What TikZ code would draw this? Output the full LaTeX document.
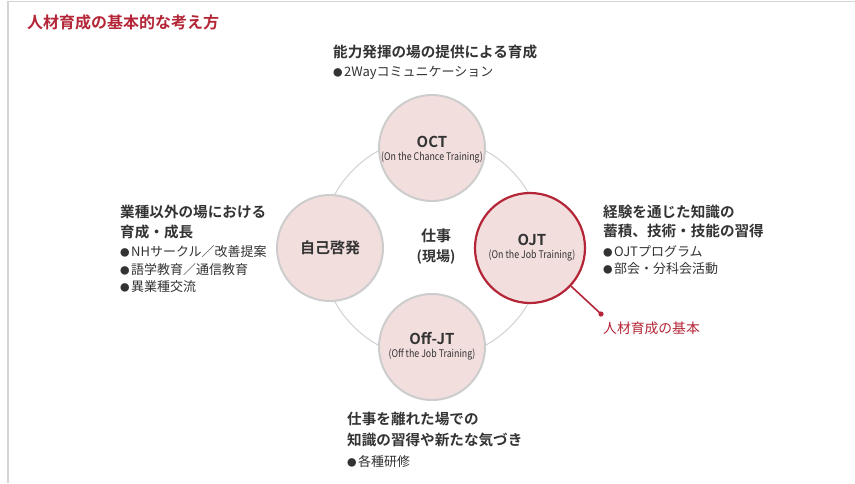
\documentclass[tikz,border=0pt]{standalone}
\usepackage{fontspec}
\usepackage{graphicx}
\setmainfont{Noto Sans CJK JP}[BoldFont={* Bold}]
\definecolor{pinkfill}{RGB}{243,222,222}
\definecolor{circgray}{RGB}{205,205,205}
\definecolor{ringgray}{RGB}{212,212,212}
\definecolor{redc}{RGB}{180,38,55}
\definecolor{txt}{RGB}{51,51,51}
\definecolor{framegray}{RGB}{212,212,212}
\tikzset{
  circ/.style={circle, fill=pinkfill, draw=circgray, line width=2pt, minimum size=106pt, inner sep=0pt},
  redcirc/.style={circle, fill=pinkfill, draw=redc, line width=2.2pt, minimum size=110pt, inner sep=0pt},
  head/.style={anchor=west, inner sep=0pt, text=txt, font=\fontsize{14.6}{16}\selectfont\bfseries},
  bul/.style={anchor=west, inner sep=0pt, text=txt, font=\fontsize{13}{15}\selectfont},
  ctitle/.style={inner sep=0pt, text=txt, font=\fontsize{15}{17}\selectfont\bfseries},
  csub/.style={inner sep=0pt, text=txt, font=\fontsize{10.5}{12}\selectfont},
}
\newcommand{\cond}[1]{\scalebox{0.84}[1]{#1}}
\newcommand{\bdot}{{\fontsize{9.5}{10}\selectfont ●}\kern1.5pt}
\begin{document}
\begin{tikzpicture}[x=1pt,y=-1pt]
\useasboundingbox (0,0) rectangle (855,483);
\fill[white] (0,0) rectangle (855,483);
\draw[framegray, line width=1.6pt] (8,483) -- (8,1.5) -- (855,1.5);
\node[anchor=west, inner sep=0pt, text=redc, font=\fontsize{16}{18}\selectfont\bfseries] (title) at (27,22) {人材育成の基本的な考え方};

% background ring
\node[circle, draw=ringgray, line width=1.1pt, minimum size=222pt, inner sep=0pt] (ring) at (432,248) {};

% circles
\node[circ] (oct) at (432,148) {};
\node[circ] (self) at (330,248) {};
\node[circ] (off) at (432,347) {};
\node[redcirc] (ojt) at (530,248) {};

% circle texts
\node[ctitle] (octt) at (432,142) {OCT};
\node[csub] (octs) at (432,158) {\cond{(On the Chance Training)}};
\node[ctitle] (selft) at (330,248) {自己啓発};
\node[ctitle] (offt) at (432,339) {Off-JT};
\node[csub] (offs) at (432,355) {\cond{(Off the Job Training)}};
\node[ctitle] (ojtt) at (532,240) {OJT};
\node[csub] (ojts) at (532,256) {\cond{(On the Job Training)}};
\node[ctitle] (work) at (436,236) {仕事};
\node[inner sep=0pt, text=txt, font=\fontsize{14}{16}\selectfont\bfseries] (genba) at (436,257) {(現場)};

% red pointer
\coordinate (dot) at (601,314);
\draw[redc, line width=1.6pt] (ojt) -- (dot);
\fill[redc] (dot) circle (2.6pt);
\node[anchor=west, inner sep=0pt, text=redc, font=\fontsize{13.8}{15}\selectfont] (basic) at (603,328) {人材育成の基本};

% top text
\node[head] (t1) at (333,52) {能力発揮の場の提供による育成};
\node[bul] (t2) at (333,73) {\bdot 2Wayコミュニケーション};

% left text
\node[head] (l1) at (120,212) {業種以外の場における};
\node[head] (l2) at (120,232) {育成・成長};
\node[bul] (l3) at (120,252) {\bdot NHサークル／改善提案};
\node[bul] (l4) at (120,270) {\bdot 語学教育／通信教育};
\node[bul] (l5) at (120,287) {\bdot 異業種交流};

% right text
\node[head] (r1) at (603,212) {経験を通じた知識の};
\node[head] (r2) at (603,231) {蓄積、技術・技能の習得};
\node[bul] (r3) at (603,251) {\bdot OJTプログラム};
\node[bul] (r4) at (603,269) {\bdot 部会・分科会活動};

% bottom text
\node[head] (b1) at (347,419) {仕事を離れた場での};
\node[head] (b2) at (347,440) {知識の習得や新たな気づき};
\node[bul] (b3) at (347,462) {\bdot 各種研修};
\end{tikzpicture}
\end{document}
